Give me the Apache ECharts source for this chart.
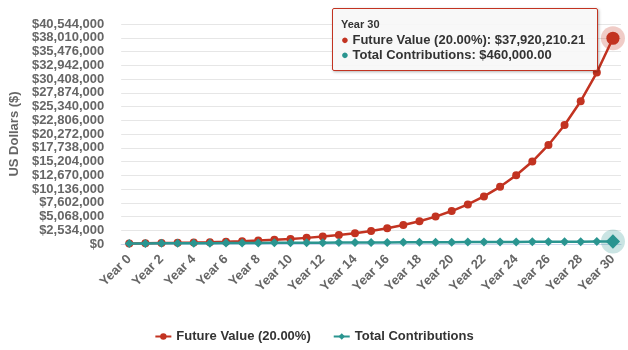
<!DOCTYPE html>
<html>
<head>
<meta charset="utf-8">
<script src="https://cdn.jsdelivr.net/npm/echarts@6/dist/echarts.min.js"></script>
<style>
  html, body { margin: 0; padding: 0; background: #fff; }
  #chart { width: 628px; height: 350px; }
</style>
</head>
<body>
<div id="chart"></div>
<script>
const years = [];
for (let i = 0; i <= 30; i++) years.push("Year " + i);

// future value (20% growth)
const futureValue = [
  100000, 132000, 170400, 216480, 271776, 338131.2, 417757.44, 513308.93,
  627970.71, 765564.86, 930677.83, 1128813.39, 1366576.07, 1651891.29,
  1994269.54, 2405123.45, 2898148.14, 3489777.77, 4199733.32, 5051679.99,
  6074015.99, 7300819.19, 8772983.02, 10539579.63, 12659495.55, 15203394.66,
  18256073.6, 21919288.32, 26315145.98, 31590175.18, 37920210.21
];

const contributions = [
  100000, 112000, 124000, 136000, 148000, 160000, 172000, 184000, 196000,
  208000, 220000, 232000, 244000, 256000, 268000, 280000, 292000, 304000,
  316000, 328000, 340000, 352000, 364000, 376000, 388000, 400000, 412000,
  424000, 436000, 448000, 460000
];

const RED = "#c23321";
const TEAL = "#2a9590";
const FONT = "Liberation Sans";
const HOVER = 30;

function money(v, dec) {
  return "$" + v.toLocaleString("en-US", { minimumFractionDigits: dec, maximumFractionDigits: dec });
}

// hovered point drawn a bit bigger, like the reference
function withHover(arr, size) {
  return arr.map(function (v, i) {
    return i === HOVER ? { value: v, symbolSize: size } : v;
  });
}

const chart = echarts.init(document.getElementById("chart"));

chart.setOption({
  animation: false,
  textStyle: { fontFamily: FONT },
  grid: { left: 117, right: 7, top: 24, bottom: 106 },
  legend: {
    bottom: 2,
    left: "center",
    itemWidth: 16,
    itemHeight: 8,
    itemGap: 22,
    textStyle: { fontFamily: FONT, fontSize: 13, fontWeight: "bold", color: "#333" },
    data: ["Future Value (20.00%)", "Total Contributions"]
  },
  tooltip: {
    trigger: "axis",
    alwaysShowContent: true,
    position: [332, 8],
    axisPointer: { type: "none" },
    backgroundColor: "rgba(247,247,247,0.9)",
    borderColor: RED,
    borderWidth: 1,
    padding: [8, 12, 8, 8],
    extraCssText: "box-shadow: 1px 1px 3px rgba(0,0,0,0.3); border-radius: 2px;",
    formatter: function (params) {
      let s = '<div style="font:bold 11px ' + FONT + ';color:#333;line-height:15px">' + params[0].name + '</div>';
      params.forEach(function (p) {
        const c = p.seriesIndex === 0 ? RED : TEAL;
        s += '<div style="font:bold 13px ' + FONT + ';color:#333;line-height:15px">' +
          '<span style="color:' + c + ';font-size:13px">\u25CF</span> ' +
          p.seriesName + ': ' + money(p.value, 2) + '</div>';
      });
      return s;
    }
  },
  xAxis: {
    type: "category",
    data: years,
    boundaryGap: true,
    axisLine: { lineStyle: { color: "#ccd6eb" } },
    axisTick: { alignWithLabel: true, interval: 1, length: 9, lineStyle: { color: "#ccd6eb" } },
    axisLabel: {
      interval: 1,
      rotate: 45,
      margin: 13,
      fontFamily: FONT,
      fontSize: 13,
      fontWeight: "bold",
      color: "#666"
    }
  },
  yAxis: {
    type: "value",
    min: 0,
    max: 40544000,
    interval: 2534000,
    name: "US Dollars ($)",
    nameLocation: "middle",
    nameGap: 100,
    nameTextStyle: { fontFamily: FONT, fontSize: 13, fontWeight: "bold", color: "#666" },
    axisLine: { show: false },
    axisTick: { show: false },
    splitLine: { lineStyle: { color: "#e6e6e6" } },
    axisLabel: {
      margin: 17,
      fontFamily: FONT,
      fontSize: 13,
      fontWeight: "bold",
      color: "#666",
      formatter: function (v) { return money(v, 0); }
    }
  },
  series: [
    {
      name: "Future Value (20.00%)",
      type: "line",
      data: withHover(futureValue, 12),
      symbol: "circle",
      symbolSize: 8,
      showAllSymbol: true,
      lineStyle: { color: RED, width: 2.5 },
      itemStyle: { color: RED },
      emphasis: { disabled: true },
      z: 3,
      markPoint: {
        symbol: "circle",
        symbolSize: 24,
        label: { show: false },
        itemStyle: { color: "rgba(194,51,33,0.25)" },
        data: [{ coord: [years[HOVER], futureValue[HOVER]] }],
        silent: true
      }
    },
    {
      name: "Total Contributions",
      type: "line",
      data: withHover(contributions, 13),
      symbol: "diamond",
      symbolSize: 9,
      showAllSymbol: true,
      lineStyle: { color: TEAL, width: 2.5 },
      itemStyle: { color: TEAL },
      emphasis: { disabled: true },
      z: 4,
      markPoint: {
        symbol: "circle",
        symbolSize: 24,
        label: { show: false },
        itemStyle: { color: "rgba(42,149,144,0.25)" },
        data: [{ coord: [years[HOVER], contributions[HOVER]] }],
        silent: true
      }
    }
  ]
});

chart.dispatchAction({ type: "showTip", seriesIndex: 0, dataIndex: HOVER });
</script>
</body>
</html>
